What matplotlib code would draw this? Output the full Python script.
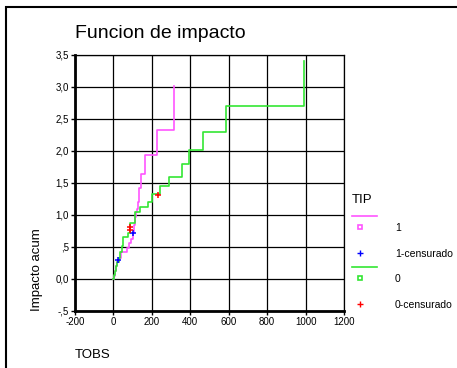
import matplotlib
matplotlib.use("Agg")
import matplotlib.pyplot as plt
from matplotlib.lines import Line2D
from matplotlib.patches import Rectangle

plt.rcParams['font.family'] = ['Liberation Sans', 'DejaVu Sans']

# TIP = 1 (cumulative hazard, step function)
t1 = [0, 4, 8, 14, 20, 28, 40, 70, 80, 92, 100, 108, 114, 118, 122, 128, 134, 145, 164, 225, 313]
h1 = [0, 0.05, 0.12, 0.2, 0.26, 0.33, 0.42, 0.49, 0.56, 0.63, 0.72, 0.84, 0.97, 1.05, 1.10, 1.2, 1.42, 1.64, 1.93, 2.33, 3.01]
# TIP = 0
t0 = [0, 4, 8, 14, 20, 28, 36, 44, 52, 78, 86, 112, 138, 182, 200, 242, 287, 355, 391, 467, 587, 992]
h0 = [0, 0.06, 0.12, 0.2, 0.26, 0.33, 0.42, 0.52, 0.65, 0.72, 0.87, 1.04, 1.12, 1.2, 1.33, 1.45, 1.6, 1.79, 2.02, 2.3, 2.7, 3.4]

# censored observations
cens1_t = [26, 100]
cens1_h = [0.30, 0.72]
cens0_t = [84, 88, 230]
cens0_h = [0.76, 0.81, 1.32]

xticks = [-200, 0, 200, 400, 600, 800, 1000, 1200]
yticks = [-0.5, 0, 0.5, 1.0, 1.5, 2.0, 2.5, 3.0, 3.5]
ylabels = ['-,5', '0,0', ',5', '1,0', '1,5', '2,0', '2,5', '3,0', '3,5']

col1 = '#ff55ff'
col0 = '#33e633'

W, H = 457, 368
fig = plt.figure(figsize=(W / 100, H / 100), dpi=100)

def fx(px):
    return px / W

def fy(py):
    return 1 - py / H

ax = fig.add_axes([fx(75), fy(311), fx(344) - fx(75), fy(55) - fy(311)])

ax.step(t1, h1, where='post', color=col1, lw=1.2, zorder=3)
ax.step(t0, h0, where='post', color=col0, lw=1.2, zorder=3)
ax.plot(cens1_t, cens1_h, '+', color='blue', ms=4.5, mew=1.1, zorder=4)
ax.plot(cens0_t, cens0_h, '+', color='red', ms=4.5, mew=1.1, zorder=4)

ax.set_xlim(-200, 1200)
ax.set_ylim(-0.5, 3.5)
ax.set_xticks(xticks)
ax.set_xticklabels([str(v) for v in xticks])
ax.set_yticks(yticks)
ax.set_yticklabels(ylabels)
ax.grid(True, color='black', lw=0.9)
ax.tick_params(labelsize=7, length=3, width=1, pad=1.5)
for s in ['left', 'bottom']:
    ax.spines[s].set_linewidth(2)
for s in ['top', 'right']:
    ax.spines[s].set_linewidth(0.9)

# titles and axis labels
fig.text(fx(75), fy(33), 'Funcion de impacto', fontsize=14, ha='left', va='center')
fig.text(fx(37), fy(311), 'Impacto acum', fontsize=9.5, rotation=90, ha='center', va='bottom')
fig.text(fx(75), fy(355), 'TOBS', fontsize=9.5, ha='left', va='center')

# legend drawn by hand
fig.text(fx(352), fy(200), 'TIP', fontsize=9.5, ha='left', va='center')
rows = [
    ('line', col1, 216, None),
    ('s', col1, 227, '1'),
    ('+', 'blue', 253, '1-censurado'),
    ('line', col0, 267, None),
    ('s', col0, 278, '0'),
    ('+', 'red', 304, '0-censurado'),
]
for kind, c, py, lab in rows:
    if kind == 'line':
        fig.add_artist(Line2D([fx(352), fx(377)], [fy(py), fy(py)], color=c, lw=1.2))
    elif kind == 's':
        fig.add_artist(Line2D([fx(360)], [fy(py)], marker='s', ms=3, mfc='none', mec=c, mew=1.2, ls='none'))
    else:
        fig.add_artist(Line2D([fx(360)], [fy(py)], marker='+', ms=5, color=c, mew=1.0, ls='none'))
    if lab:
        fig.text(fx(395), fy(py + 1), lab, fontsize=7.5, ha='left', va='center')

# outer frame
fig.add_artist(Rectangle((fx(6), -0.1), 1.2, fy(7) + 0.1, transform=fig.transFigure,
                         fill=False, ec='black', lw=1.5))

fig.savefig('out.png', dpi=100)
